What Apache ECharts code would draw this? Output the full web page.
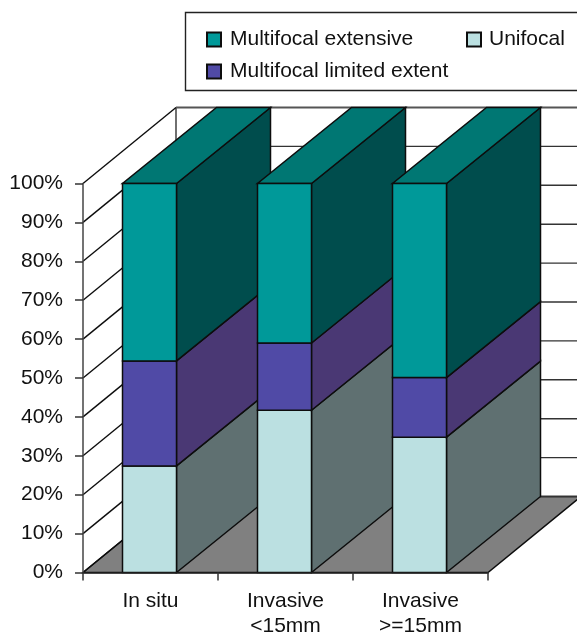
<!DOCTYPE html>
<html>
<head>
<meta charset="utf-8">
<style>html,body{margin:0;padding:0;background:#fff;overflow:hidden}#chart{width:577px;height:634px}</style>
<script src="https://cdn.jsdelivr.net/npm/echarts@6/dist/echarts.min.js"></script>
</head>
<body>
<div id="chart"></div>
<script>
// Stacked percentages per lesion group, bottom segment first.
const categories = ['In situ', 'Invasive\n<15mm', 'Invasive\n>=15mm'];
const unifocal = [27.4, 41.7, 34.8];
const multifocalLimited = [27, 17.3, 15.3];
const multifocalExtensive = [45.6, 41, 49.9];
const percentTicks = [0, 10, 20, 30, 40, 50, 60, 70, 80, 90, 100];

// Oblique projection of the box: how far the rear plane sits from the front one.
const DEPTH_X = 93;
const DEPTH_Y = 76;
const BAR_DEPTH_X = 94;
const LINE = '#0d0d0d';
const WALL_LINE = '#333';
const FONT = '"Liberation Sans", Arial, sans-serif';
const TEXT = '#111';

const palette = {
  ext: { front: '#009999', side: '#004d4d', top: '#007773' },
  lim: { front: '#504aa6', side: '#4a3874' },
  uni: { front: '#bbe0e1', side: '#5f7071' }
};

function polygon(points, fill, z2, stroke) {
  return {
    type: 'polygon', z2: z2,
    shape: { points: points },
    style: { fill: fill, stroke: stroke === undefined ? LINE : stroke, lineWidth: 1.5 }
  };
}
function segment(a, b, z2, color, width) {
  return {
    type: 'line', z2: z2,
    shape: { x1: a[0], y1: a[1], x2: b[0], y2: b[1] },
    style: { stroke: color, lineWidth: width }
  };
}

// One stacked segment drawn as a box; only the uppermost layer shows its lid.
function boxRenderer(colors, layer, hasLid) {
  return function (params, api) {
    const i = api.value(0);
    const low = api.coord([i, api.value(1)]);
    const high = api.coord([i, api.value(2)]);
    const w = api.size([1, 0])[0] * 0.4;
    const x0 = low[0] - w / 2 - 1, x1 = x0 + w;
    const z = 10 + i * 10 + layer;
    const children = [
      polygon([[x1, low[1]], [x1, high[1]], [x1 + BAR_DEPTH_X, high[1] - DEPTH_Y], [x1 + BAR_DEPTH_X, low[1] - DEPTH_Y]], colors.side, z),
      polygon([[x0, low[1]], [x1, low[1]], [x1, high[1]], [x0, high[1]]], colors.front, z + 1)
    ];
    if (hasLid) {
      children.push(polygon([[x0, high[1]], [x1, high[1]], [x1 + BAR_DEPTH_X, high[1] - DEPTH_Y], [x0 + BAR_DEPTH_X, high[1] - DEPTH_Y]], colors.top, z));
    }
    return { type: 'group', children: children };
  };
}

function stackedData(lower, values) {
  return values.map(function (v, i) { return [i, lower[i], lower[i] + v]; });
}
const uniTop = unifocal;
const limTop = unifocal.map(function (v, i) { return v + multifocalLimited[i]; });

const chart = echarts.init(document.getElementById('chart'), null, { renderer: 'canvas' });
chart.setOption({
  animation: false,
  backgroundColor: '#fff',
  grid: { left: 83, top: 183.5, width: 405, height: 389, outerBoundsMode: 'none' },
  xAxis: {
    type: 'category', data: categories, z: 6,
    axisLine: { lineStyle: { color: '#222', width: 1.5 } },
    axisTick: { show: true, alignWithLabel: false, length: 8, lineStyle: { color: '#333', width: 1.5 } },
    axisLabel: { color: TEXT, fontFamily: FONT, fontSize: 21, margin: 16, lineHeight: 25, interval: 0 },
    splitLine: { show: false }
  },
  yAxis: {
    type: 'value', min: 0, max: 100, interval: 10, z: 6,
    axisLine: { show: true, lineStyle: { color: '#444', width: 1.5 } },
    axisTick: { show: true, length: 8, lineStyle: { color: '#333', width: 1.5 } },
    axisLabel: { color: TEXT, fontFamily: FONT, fontSize: 21, margin: 20, formatter: '{value}%' },
    splitLine: { show: false }
  },
  legend: [
    {
      left: 206, top: 29, orient: 'vertical', padding: 0, itemGap: 11, itemWidth: 14, itemHeight: 14,
      selectedMode: false, icon: 'rect',
      textStyle: { fontFamily: FONT, fontSize: 21, color: TEXT, padding: [3, 0, 0, 4] },
      data: ['Multifocal extensive', 'Multifocal limited extent']
    },
    {
      left: 466, top: 29, orient: 'vertical', padding: 0, itemWidth: 14, itemHeight: 14,
      selectedMode: false, icon: 'rect',
      textStyle: { fontFamily: FONT, fontSize: 21, color: TEXT, padding: [3, 0, 0, 3] },
      data: ['Unifocal']
    }
  ],
  graphic: [{
    type: 'rect', silent: true, z: 0,
    shape: { x: 185.5, y: 12.5, width: 420, height: 78 },
    style: { fill: '#fff', stroke: '#222', lineWidth: 1.4 }
  }],
  series: [
    {
      // Floor and wall rulings of the box, one entry per percentage tick.
      type: 'custom', name: 'walls', silent: true, clip: false,
      data: percentTicks.map(function (t) { return [t]; }),
      encode: { y: 0 },
      renderItem: function (params, api) {
        const t = api.value(0);
        const front = api.coord([0, t]);
        const left = front[0] - api.size([1, 0])[0] / 2;
        const y = front[1];
        const kids = [
          segment([left, y], [left + DEPTH_X, y - DEPTH_Y], 2, LINE, 1.4),
          segment([left + DEPTH_X, y - DEPTH_Y], [left + DEPTH_X + 420, y - DEPTH_Y], 2, t === 100 ? '#555' : WALL_LINE, t === 100 ? 2 : 1.4)
        ];
        if (t === 0) {
          const right = left + api.size([1, 0])[0] * 3;
          kids.unshift(polygon([[left, y], [left + DEPTH_X, y - DEPTH_Y], [right + DEPTH_X, y - DEPTH_Y], [right, y]], '#808080', 1, LINE));
          const top = api.coord([0, 100])[1];
          kids.push(segment([left + DEPTH_X, y - DEPTH_Y], [left + DEPTH_X, top - DEPTH_Y], 2, WALL_LINE, 1.4));
        }
        return { type: 'group', children: kids };
      }
    },
    {
      type: 'custom', name: 'Unifocal', clip: false,
      itemStyle: { color: palette.uni.front, borderColor: LINE, borderWidth: 1.2 },
      data: stackedData(unifocal.map(function () { return 0; }), uniTop),
      encode: { x: 0, y: [1, 2] },
      renderItem: boxRenderer(palette.uni, 0, false)
    },
    {
      type: 'custom', name: 'Multifocal limited extent', clip: false,
      itemStyle: { color: palette.lim.front, borderColor: LINE, borderWidth: 1.2 },
      data: stackedData(uniTop, multifocalLimited),
      encode: { x: 0, y: [1, 2] },
      renderItem: boxRenderer(palette.lim, 2, false)
    },
    {
      type: 'custom', name: 'Multifocal extensive', clip: false,
      itemStyle: { color: palette.ext.front, borderColor: LINE, borderWidth: 1.2 },
      data: stackedData(limTop, multifocalExtensive),
      encode: { x: 0, y: [1, 2] },
      renderItem: boxRenderer(palette.ext, 4, true)
    }
  ]
});
</script>
</body>
</html>
